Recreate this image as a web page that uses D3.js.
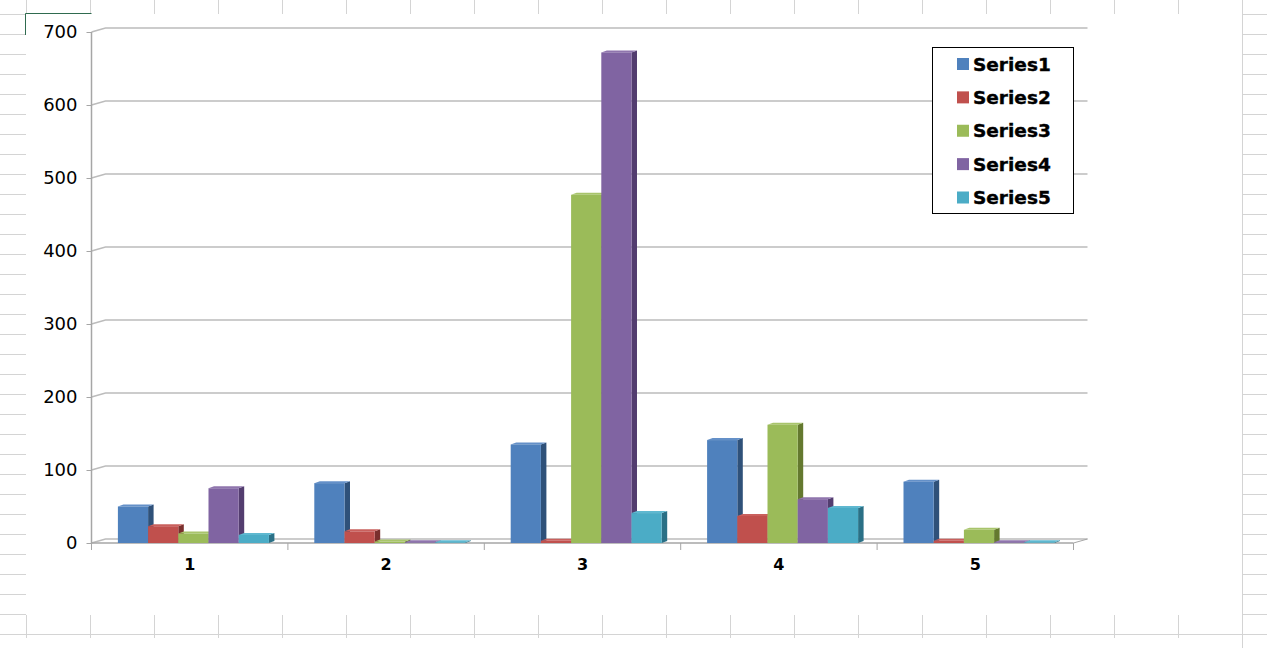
<!DOCTYPE html>
<html>
<head>
<meta charset="utf-8">
<title>Series chart</title>
<script src="https://cdn.jsdelivr.net/npm/d3@7"></script>
<style>
  html, body { margin: 0; padding: 0; background: #fff; overflow: hidden; }
  svg { display: block; }
  text { font-family: "DejaVu Sans", sans-serif; fill: #000; }
</style>
</head>
<body>
<div id="chart"></div>
<script>
// values
const categories = ['1', '2', '3', '4', '5'];
const seriesNames = ['Series1', 'Series2', 'Series3', 'Series4', 'Series5'];
const series1 = [50, 82, 135, 141, 84];
const series2 = [23, 16, 3, 37, 3];
const series3 = [13, 2, 477, 162, 18];
const series4 = [75, 1, 672, 60, 1];
const series5 = [11, 1, 41, 48, 1];
const yTicks = [0, 100, 200, 300, 400, 500, 600, 700];

const allSeries = [series1, series2, series3, series4, series5];
const frontColors = ['#4f81bd', '#c0504d', '#9bbb59', '#8064a2', '#4bacc6'];
const topColors = ['#6490c8', '#c9605d', '#a8c46b', '#8f75ad', '#5fb8d0'];
const sideColors = ['#2f5179', '#7a2f2d', '#64792f', '#533d6f', '#2a7086'];

const width = 1267, height = 648;
const depthX = 14, depthY = 4;        // shift of the back wall
const barDepthX = 5.5, barDepthY = 2; // shift of a bar's back face

const svg = d3.select('#chart').append('svg')
    .attr('width', width)
    .attr('height', height);

// spreadsheet cells behind the chart
const sheet = svg.append('g').attr('stroke', '#d4d4d4').attr('stroke-width', 1);
const rows = d3.range(14, 635, 20);
const cols = d3.range(26, 1243, 64);
sheet.selectAll('.row-l').data(rows).enter().append('line')
    .attr('x1', 0).attr('x2', 26).attr('y1', d => d + 0.5).attr('y2', d => d + 0.5);
sheet.selectAll('.row-r').data(rows).enter().append('line')
    .attr('x1', 1242).attr('x2', width).attr('y1', d => d + 0.5).attr('y2', d => d + 0.5);
sheet.selectAll('.col-t').data(cols).enter().append('line')
    .attr('x1', d => d + 0.5).attr('x2', d => d + 0.5).attr('y1', 0).attr('y2', 14);
sheet.selectAll('.col-b').data(cols).enter().append('line')
    .attr('x1', d => d + 0.5).attr('x2', d => d + 0.5).attr('y1', 615).attr('y2', 638);
sheet.append('line').attr('x1', 0).attr('x2', width).attr('y1', 634.5).attr('y2', 634.5);
sheet.append('line').attr('x1', 1242.5).attr('x2', 1242.5).attr('y1', 0).attr('y2', height);

// selected cell corner
svg.append('path')
    .attr('d', 'M25.5,35V13.5H91.5')
    .attr('fill', 'none')
    .attr('stroke', '#2f6b4f')
    .attr('stroke-width', 1);

// scales
const x = d3.scaleBand().domain(categories).range([91.5, 1073.5]);
const y = d3.scaleLinear().domain([0, 700]).range([543, 32]);
const barWidth = 30.2;
const groupOffset = 26.4;

// back wall gridlines with the slanted part on the side wall
const grid = svg.append('g').attr('fill', 'none').attr('stroke', '#bcbcbc');
grid.selectAll('path').data(yTicks).enter().append('path')
    .attr('stroke-width', 1.5)
    .attr('d', d => `M${x.range()[0]},${y(d)}L${x.range()[0] + depthX},${y(d) - depthY}H${x.range()[1] + depthX}`);
// right end of the floor
svg.append('line')
    .attr('x1', x.range()[1]).attr('y1', y(0))
    .attr('x2', x.range()[1] + depthX).attr('y2', y(0) - depthY)
    .attr('stroke', '#a6a6a6').attr('stroke-width', 1);

// y axis
const yAxis = svg.append('g')
    .attr('transform', `translate(${x.range()[0]},0)`)
    .call(d3.axisLeft(y).tickValues(yTicks).tickSize(5).tickPadding(9));
yAxis.selectAll('text').attr('font-size', 18).style('font-family', '"DejaVu Sans", sans-serif');
yAxis.selectAll('line').attr('stroke', '#a6a6a6');
yAxis.select('.domain').attr('stroke', '#a6a6a6').attr('stroke-width', 1.5).attr('d', `M0,${y(700)}V${y(0)}`);

// x axis
const xAxis = svg.append('g')
    .attr('transform', `translate(0,${y(0)})`)
    .call(d3.axisBottom(x).tickSize(0).tickPadding(16));
xAxis.selectAll('text').attr('font-size', 16).attr('font-weight', 'bold').style('font-family', '"DejaVu Sans", sans-serif');
xAxis.select('.domain').attr('stroke', '#a6a6a6').attr('stroke-width', 1.5).attr('d', `M${x.range()[0]},0H${x.range()[1]}`);
xAxis.selectAll('.boundary').data(d3.range(categories.length + 1)).enter().append('line')
    .attr('class', 'boundary')
    .attr('x1', i => x.range()[0] + i * x.step()).attr('x2', i => x.range()[0] + i * x.step())
    .attr('y1', 0).attr('y2', 7)
    .attr('stroke', '#a6a6a6');

// bars, series by series so a later front covers the side of the one before
const bars = svg.append('g');
categories.forEach((cat, c) => {
    allSeries.forEach((values, s) => {
        const left = x(cat) + groupOffset + s * barWidth;
        const right = left + barWidth;
        const top = y(values[c]);
        const base = y(0);
        const g = bars.append('g');
        g.append('path') // side
            .attr('fill', sideColors[s])
            .attr('d', `M${right},${top}L${right + barDepthX},${top - barDepthY}V${base - barDepthY}L${right},${base}Z`);
        g.append('path') // top
            .attr('fill', topColors[s])
            .attr('d', `M${left},${top}L${left + barDepthX},${top - barDepthY}H${right + barDepthX}L${right},${top}Z`);
        g.append('rect') // front
            .attr('x', left)
            .attr('y', top)
            .attr('width', barWidth)
            .attr('height', base - top)
            .attr('fill', frontColors[s]);
    });
});

// legend
const legend = svg.append('g');
legend.append('rect')
    .attr('x', 932.5).attr('y', 47.5)
    .attr('width', 141).attr('height', 166)
    .attr('fill', '#fff')
    .attr('stroke', '#000')
    .attr('stroke-width', 1);
const legendY = d3.scalePoint().domain(seriesNames).range([64, 197.5]);
seriesNames.forEach((name, s) => {
    legend.append('rect')
        .attr('x', 957).attr('y', legendY(name) - 6)
        .attr('width', 12).attr('height', 12)
        .attr('fill', frontColors[s]);
    legend.append('text')
        .attr('x', 973).attr('y', legendY(name))
        .attr('dy', '0.36em')
        .attr('font-size', 18.5)
        .attr('font-weight', 'bold')
        .style('stroke', '#000')
        .style('stroke-width', 0.4)
        .text(name);
});
</script>
</body>
</html>
